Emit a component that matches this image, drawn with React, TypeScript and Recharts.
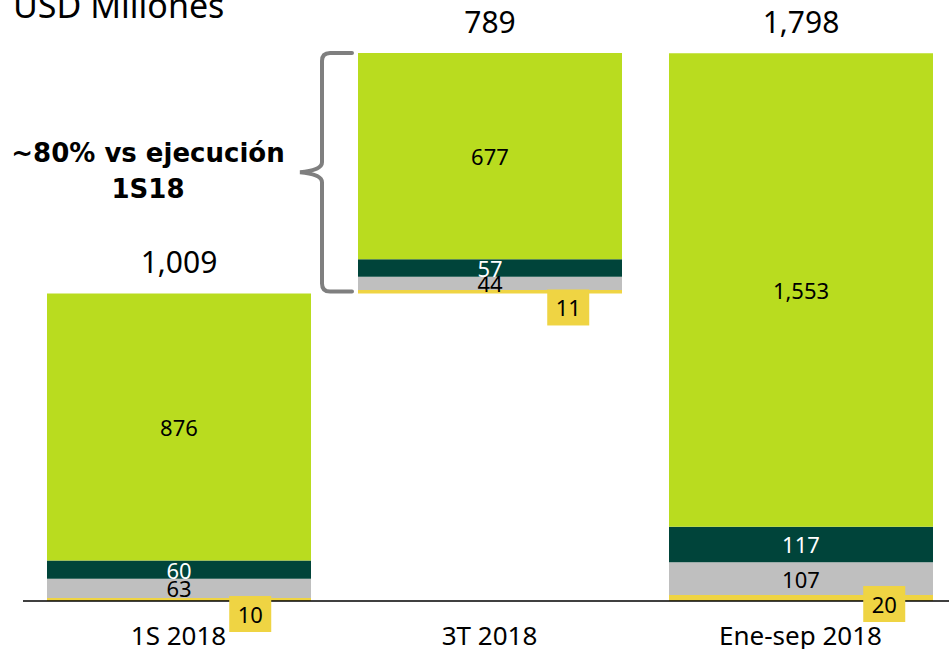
import React from "react";
import { BarChart, Bar, XAxis, YAxis, LabelList } from "recharts";

const categories = ["1S 2018", "3T 2018", "Ene-sep 2018"];
const baseValues = [0, 1009, 0];
const yellowValues = [10, 11, 20];
const grayValues = [63, 44, 107];
const darkValues = [60, 57, 117];
const limeValues = [876, 677, 1553];
const totals = ["1,009", "789", "1,798"];
const segmentLabels = {
  yellow: ["10", "11", "20"],
  gray: ["63", "44", "107"],
  dark: ["60", "57", "117"],
  lime: ["876", "677", "1,553"],
};

const data = categories.map((name, i) => ({
  name,
  base: baseValues[i],
  yellow: yellowValues[i],
  gray: grayValues[i],
  dark: darkValues[i],
  lime: limeValues[i],
}));

const FONT = "'Noto Sans', 'DejaVu Sans', sans-serif";
const BOLD_FONT = "'DejaVu Sans', 'Noto Sans', sans-serif";
const LIME = "#B9DC1F";
const DARK = "#00443A";
const GRAY = "#BFBFBF";
const YELLOW = "#EFD443";

// nudges for the yellow value boxes (placed by hand in the original slide)
const yellowBoxDx = [-4, 3, 8];
const yellowBoxDy = [-5, -4, -15];

const centerLabel = (labels: string[], color: string) => (props: any) => {
  const { x, y, width, height, index } = props;
  return (
    <text
      x={x + width / 2}
      y={y + height / 2}
      textAnchor="middle"
      dominantBaseline="central"
      fill={color}
      fontSize={22}
      fontFamily={FONT}
    >
      {labels[index]}
    </text>
  );
};

const yellowBox = (props: any) => {
  const { x, y, width, height, index } = props;
  const bx = x + width * 0.785 - 21 + yellowBoxDx[index];
  const by = y + height + yellowBoxDy[index];
  return (
    <g>
      <rect x={bx} y={by} width={42} height={36} fill={YELLOW} />
      <text
        x={bx + 21}
        y={by + 18}
        textAnchor="middle"
        dominantBaseline="central"
        fill="#000"
        fontSize={22}
        fontFamily={FONT}
      >
        {segmentLabels.yellow[index]}
      </text>
    </g>
  );
};

const limeTop = (props: any) => {
  const { x, y, width, height, index } = props;
  const cx = x + width / 2;
  const els = [
    <text
      key="t"
      x={cx}
      y={y - 20}
      textAnchor="middle"
      fill="#000"
      fontSize={30}
      fontFamily={FONT}
    >
      {totals[index]}
    </text>,
  ];
  if (index === 1) {
    // brace spanning the whole floating 3T stack
    const perUnit = height / limeValues[1];
    const stack = yellowValues[1] + grayValues[1] + darkValues[1] + limeValues[1];
    const top = y;
    const bottom = y + stack * perUnit - 2;
    const mid = top + (bottom - top) * 0.5;
    const tip = x - 6;
    const spine = x - 36;
    const point = x - 58;
    const d = `M ${tip} ${top} L ${spine + 8} ${top} Q ${spine} ${top} ${spine} ${top + 8}
      L ${spine} ${mid - 10} Q ${spine} ${mid - 2} ${point} ${mid}
      Q ${spine} ${mid + 2} ${spine} ${mid + 10}
      L ${spine} ${bottom - 8} Q ${spine} ${bottom} ${spine + 8} ${bottom} L ${tip} ${bottom}`;
    els.push(
      <path key="b" d={d} fill="none" stroke="#7F7F7F" strokeWidth={4} strokeLinecap="round" />
    );
  }
  return <g>{els}</g>;
};

export default function App() {
  return (
    <div
      style={{
        position: "absolute",
        left: 0,
        top: 0,
        width: 949,
        height: 649,
        overflow: "hidden",
        background: "#fff",
      }}
    >
      <BarChart
        width={957}
        height={649}
        data={data}
        margin={{ top: 53, right: 1, left: 23, bottom: 0 }}
        barSize={264}
      >
        <XAxis
          dataKey="name"
          axisLine={{ stroke: "#000", strokeWidth: 1.5 }}
          tickLine={false}
          tickSize={0}
          tickMargin={26}
          height={48}
          interval={0}
          tick={{ fill: "#000", fontSize: 26, fontFamily: FONT }}
        />
        <YAxis hide domain={[0, 1798]} allowDataOverflow />
        <Bar dataKey="base" stackId="s" fill="transparent" isAnimationActive={false} />
        <Bar dataKey="yellow" stackId="s" fill={YELLOW} isAnimationActive={false}>
          <LabelList dataKey="yellow" content={yellowBox} />
        </Bar>
        <Bar dataKey="gray" stackId="s" fill={GRAY} isAnimationActive={false}>
          <LabelList dataKey="gray" content={centerLabel(segmentLabels.gray, "#000")} />
        </Bar>
        <Bar dataKey="dark" stackId="s" fill={DARK} isAnimationActive={false}>
          <LabelList dataKey="dark" content={centerLabel(segmentLabels.dark, "#fff")} />
        </Bar>
        <Bar dataKey="lime" stackId="s" fill={LIME} isAnimationActive={false}>
          <LabelList dataKey="lime" content={centerLabel(segmentLabels.lime, "#000")} />
          <LabelList dataKey="lime" content={limeTop} />
        </Bar>
      </BarChart>
      <svg
        width={949}
        height={649}
        style={{ position: "absolute", left: 0, top: 0, pointerEvents: "none" }}
      >
        <text x={13} y={18} fontSize={34} fontFamily={FONT} fill="#000">
          USD Millones
        </text>
        <text x={148} y={162} textAnchor="middle" fontSize={26} fontWeight="bold" fontFamily={BOLD_FONT} fill="#000">
          ~80% vs ejecución
        </text>
        <text x={148} y={198} textAnchor="middle" fontSize={26} fontWeight="bold" fontFamily={BOLD_FONT} fill="#000">
          1S18
        </text>
      </svg>
    </div>
  );
}
